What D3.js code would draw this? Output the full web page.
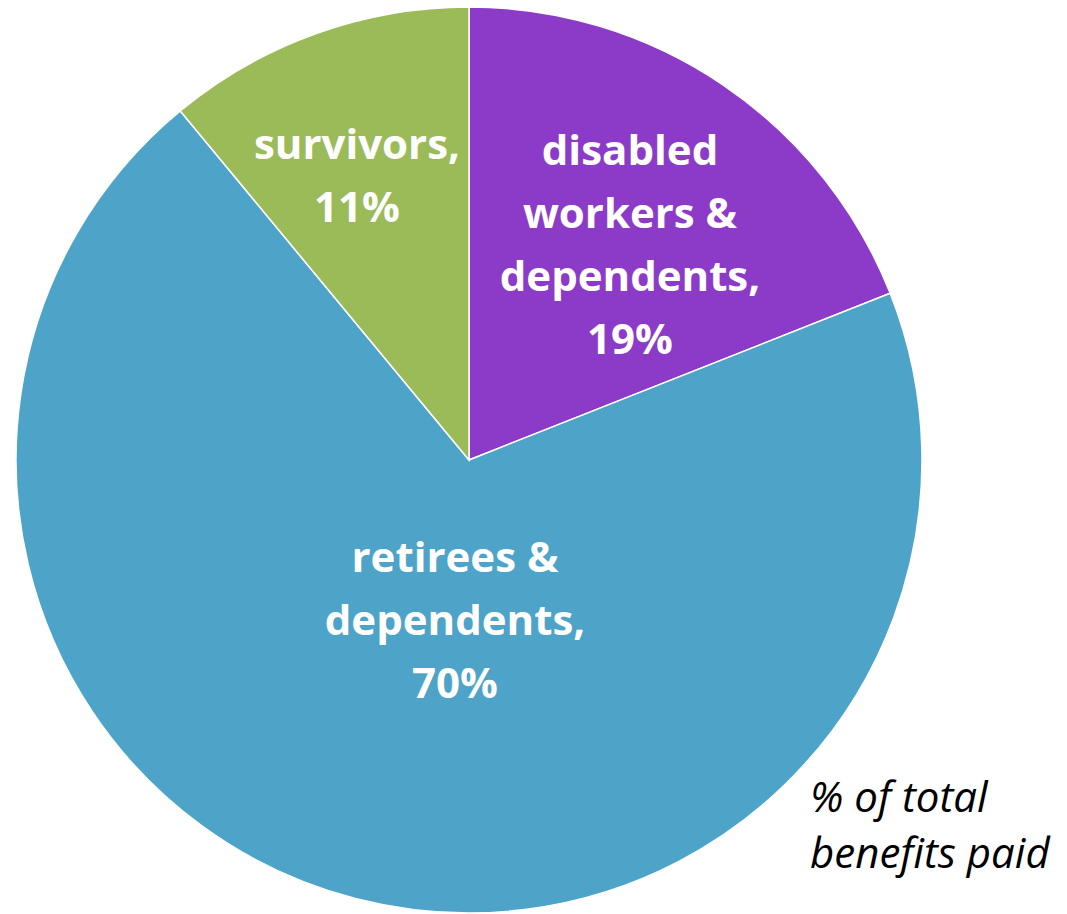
<!DOCTYPE html>
<html>
<head>
<meta charset="utf-8">
<script src="https://cdn.jsdelivr.net/npm/d3@7"></script>
<style>
  html, body { margin: 0; padding: 0; background: #fff; }
  svg text { font-family: "Open Sans", Lato, sans-serif; }
</style>
</head>
<body>
<div id="chart"></div>
<script>
// data, clockwise from 12 o'clock
const categories = ['disabled workers & dependents', 'retirees & dependents', 'survivors'];
const values = [19, 70, 11];
const labelLines = [
  ['disabled', 'workers &', 'dependents,', '19%'],
  ['retirees &', 'dependents,', '70%'],
  ['survivors,', '11%']
];
const colors = ['#8B3BC8', '#4DA3C8', '#9BBB59'];
const note = ['% of total', 'benefits paid'];

const width = 1067, height = 914;
const cx = 469, cy = 460, radius = 453;

// label anchor of first line baseline, relative to pie centre (x, y)
const labelAnchor = [[161, -295], [-14, 112], [-112, -301]];
const lineHeight = 63;

const svg = d3.select('#chart')
  .append('svg')
  .attr('width', width)
  .attr('height', height);

const g = svg.append('g')
  .attr('transform', `translate(${cx}, ${cy})`);

const data = categories.map((c, i) => ({ label: c, value: values[i], idx: i }));

const pie = d3.pie().value(d => d.value).sort(null);
const arc = d3.arc().innerRadius(0).outerRadius(radius);

const arcs = pie(data);

g.selectAll('path')
  .data(arcs)
  .enter()
  .append('path')
  .attr('d', arc)
  .attr('fill', d => colors[d.data.idx])
  .attr('stroke', 'white')
  .attr('stroke-width', 1.5);

const labels = g.selectAll('text.lbl')
  .data(arcs)
  .enter()
  .append('text')
  .attr('class', 'lbl')
  .attr('text-anchor', 'middle')
  .attr('font-size', '42px')
  .attr('font-weight', 'bold')
  .attr('fill', 'white');

labels.each(function (d) {
  const [ax, ay] = labelAnchor[d.data.idx];
  d3.select(this).selectAll('tspan')
    .data(labelLines[d.data.idx])
    .enter()
    .append('tspan')
    .attr('x', ax)
    .attr('y', (t, j) => ay + j * lineHeight)
    .text(t => t);
});

svg.append('text')
  .attr('font-size', '42px')
  .attr('font-style', 'italic')
  .attr('fill', '#000')
  .selectAll('tspan')
  .data(note)
  .enter()
  .append('tspan')
  .attr('x', 810)
  .attr('y', (t, j) => 812 + j * 56)
  .text(t => t);
</script>
</body>
</html>
